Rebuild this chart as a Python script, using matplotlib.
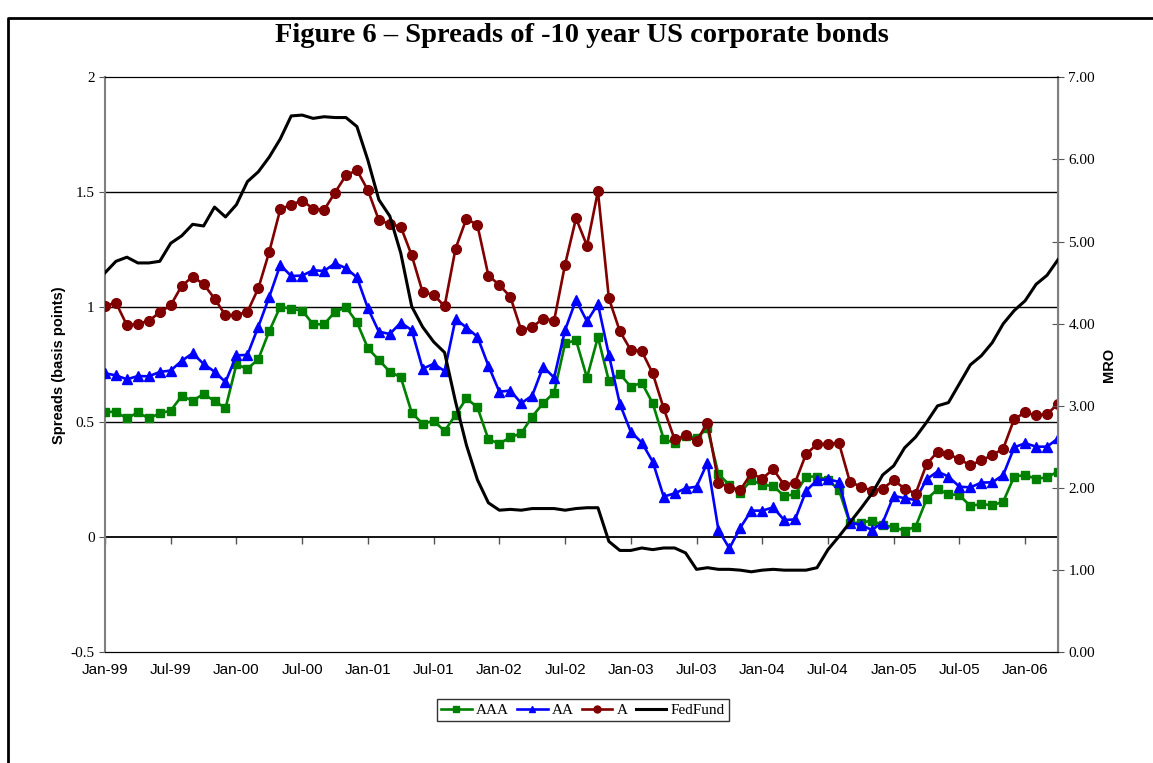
import matplotlib
matplotlib.use("Agg")
import matplotlib.pyplot as plt
from matplotlib.lines import Line2D
import numpy as np

# Monthly observations Jan-99 .. Apr-06
month_names = ["Jan", "Feb", "Mar", "Apr", "May", "Jun", "Jul", "Aug", "Sep", "Oct", "Nov", "Dec"]
years = ["99", "00", "01", "02", "03", "04", "05", "06"]
months = [f"{m}-{y}" for y in years for m in month_names][:88]

aaa = [0.546, 0.545, 0.517, 0.543, 0.517, 0.539, 0.551, 0.614, 0.594, 0.623, 0.593, 0.561,
       0.752, 0.732, 0.775, 0.897, 1.003, 0.993, 0.986, 0.926, 0.926, 0.981, 1.000, 0.935,
       0.822, 0.771, 0.720, 0.696, 0.542, 0.493, 0.507, 0.462, 0.532, 0.604, 0.565, 0.426,
       0.407, 0.435, 0.452, 0.525, 0.583, 0.629, 0.843, 0.857, 0.694, 0.870, 0.680, 0.710,
       0.655, 0.672, 0.583, 0.428, 0.409, 0.442, 0.432, 0.474, 0.275, 0.228, 0.194, 0.249,
       0.228, 0.223, 0.180, 0.187, 0.264, 0.264, 0.249, 0.206, 0.061, 0.064, 0.072, 0.054,
       0.043, 0.029, 0.046, 0.165, 0.209, 0.188, 0.183, 0.136, 0.145, 0.139, 0.155, 0.264,
       0.271, 0.254, 0.261, 0.286]

aa = [0.713, 0.704, 0.687, 0.701, 0.700, 0.719, 0.725, 0.767, 0.800, 0.754, 0.720, 0.675,
      0.791, 0.793, 0.916, 1.046, 1.184, 1.136, 1.138, 1.161, 1.158, 1.191, 1.170, 1.130,
      0.996, 0.894, 0.884, 0.933, 0.901, 0.733, 0.754, 0.723, 0.949, 0.912, 0.872, 0.746,
      0.633, 0.638, 0.583, 0.616, 0.742, 0.694, 0.901, 1.032, 0.939, 1.014, 0.793, 0.580,
      0.459, 0.412, 0.329, 0.177, 0.191, 0.213, 0.220, 0.325, 0.032, -0.048, 0.042, 0.116,
      0.116, 0.130, 0.075, 0.078, 0.201, 0.249, 0.252, 0.241, 0.064, 0.054, 0.032, 0.064,
      0.180, 0.170, 0.162, 0.252, 0.286, 0.264, 0.220, 0.217, 0.238, 0.239, 0.271, 0.391,
      0.409, 0.394, 0.394, 0.430]

a = [1.006, 1.020, 0.922, 0.928, 0.941, 0.978, 1.009, 1.093, 1.133, 1.101, 1.038, 0.965,
     0.967, 0.980, 1.083, 1.242, 1.426, 1.446, 1.464, 1.429, 1.423, 1.499, 1.574, 1.596,
     1.509, 1.379, 1.362, 1.350, 1.226, 1.065, 1.055, 1.004, 1.255, 1.386, 1.357, 1.138,
     1.097, 1.046, 0.900, 0.914, 0.951, 0.942, 1.186, 1.387, 1.268, 1.504, 1.039, 0.896,
     0.814, 0.809, 0.713, 0.561, 0.426, 0.443, 0.417, 0.499, 0.238, 0.216, 0.206, 0.278,
     0.255, 0.296, 0.228, 0.238, 0.362, 0.404, 0.407, 0.410, 0.242, 0.220, 0.203, 0.212,
     0.248, 0.212, 0.190, 0.317, 0.372, 0.362, 0.339, 0.313, 0.335, 0.357, 0.386, 0.514,
     0.543, 0.530, 0.536, 0.580]

fedfund = [4.62, 4.76, 4.81, 4.74, 4.74, 4.76, 4.98, 5.07, 5.21, 5.19, 5.42, 5.30,
           5.45, 5.73, 5.85, 6.03, 6.25, 6.53, 6.54, 6.50, 6.52, 6.51, 6.51, 6.40,
           5.99, 5.51, 5.31, 4.86, 4.21, 3.96, 3.78, 3.65, 3.05, 2.52, 2.10, 1.82,
           1.73, 1.74, 1.73, 1.75, 1.75, 1.75, 1.73, 1.75, 1.76, 1.76, 1.35, 1.24,
           1.24, 1.27, 1.25, 1.27, 1.27, 1.21, 1.01, 1.03, 1.01, 1.01, 1.00, 0.98,
           1.00, 1.01, 1.00, 1.00, 1.00, 1.03, 1.25, 1.41, 1.58, 1.75, 1.93, 2.16,
           2.27, 2.49, 2.62, 2.80, 3.00, 3.04, 3.27, 3.50, 3.61, 3.77, 4.00, 4.16,
           4.28, 4.48, 4.59, 4.78]

left_ticks = [-0.5, 0, 0.5, 1, 1.5, 2]
left_ticklabels = ["-0.5", "0", "0.5", "1", "1.5", "2"]
right_ticks = [0, 1, 2, 3, 4, 5, 6, 7]
right_ticklabels = ["0.00", "1.00", "2.00", "3.00", "4.00", "5.00", "6.00", "7.00"]

x = np.arange(len(months))
serif = ["Liberation Serif", "DejaVu Serif"]
sans = ["Liberation Sans", "DejaVu Sans"]

fig = plt.figure(figsize=(11.53, 7.63), dpi=100)
ax = fig.add_axes([105 / 1153, 1 - 652.3 / 763, (1058 - 105) / 1153, (652.3 - 77.3) / 763])
ax2 = ax.twinx()

lw = 1.9
ax.plot(x, aaa, color="#008000", lw=lw, marker="s", ms=6, label="AAA", zorder=3)
ax.plot(x, aa, color="#0000FF", lw=lw, marker="^", ms=7, label="AA", zorder=3)
ax.plot(x, a, color="#800000", lw=lw, marker="o", ms=7, label="A", zorder=3)
ax2.plot(x, fedfund, color="black", lw=2.2, label="FedFund", zorder=3)

ax.set_xlim(0, len(months) - 1)
ax.set_ylim(-0.5, 2)
ax2.set_ylim(0, 7)

for g in [0.5, 1, 1.5]:
    ax.axhline(g, color="black", lw=1.0, zorder=1)

# x tick labels at bottom, no ticks there
tick_pos = x[::6]
ax.set_xticks(tick_pos)
ax.set_xticklabels([months[i] for i in tick_pos], family=sans, fontsize=11)
ax.tick_params(axis="x", length=0, pad=8)

# axis line at 0 with ticks
sec = ax.secondary_xaxis(0.2)
sec.set_xticks(tick_pos)
sec.set_xticklabels([])
sec.tick_params(axis="x", direction="out", length=5, width=1, color="#555555")
sec.spines["bottom"].set_color("black")
sec.spines["bottom"].set_linewidth(1.3)

ax.set_yticks(left_ticks)
ax.set_yticklabels(left_ticklabels, family=serif, fontsize=11)
ax.tick_params(axis="y", direction="out", length=4, color="#555555")
ax2.set_yticks(right_ticks)
ax2.set_yticklabels(right_ticklabels, family=serif, fontsize=11)
ax2.tick_params(axis="y", direction="inout", length=8, color="#555555")

for spn in ["top", "bottom"]:
    ax.spines[spn].set_color("black")
    ax2.spines[spn].set_color("black")
ax.spines["left"].set_color("#808080")
ax.spines["left"].set_linewidth(1.5)
ax2.spines["right"].set_color("#808080")
ax2.spines["right"].set_linewidth(1.5)
ax2.spines["left"].set_visible(False)

ax.set_ylabel("Spreads (basis points)", family=sans, fontweight="bold", fontsize=10.5, labelpad=3)
ax2.set_ylabel("MRO", family=sans, fontweight="bold", fontsize=10.5, labelpad=5)

fig.text(582 / 1153, 1 - 35 / 763, "Figure 6 – Spreads of -10 year US corporate bonds",
         ha="center", va="center", family=serif, fontweight="bold", fontsize=20.5)

h1, l1 = ax.get_legend_handles_labels()
h2, l2 = ax2.get_legend_handles_labels()
leg = fig.legend(h1 + h2, l1 + l2, loc="center", bbox_to_anchor=(583 / 1153, 1 - 710 / 763),
                 ncol=4, frameon=True, fancybox=False, edgecolor="black", handlelength=2.0,
                 columnspacing=0.5, handletextpad=0.3, borderpad=0.3,
                 prop={"family": serif, "size": 11})
leg.get_frame().set_linewidth(1.0)
for lh in leg.legend_handles:
    lh.set_markersize(5)

# outer frame (left and top edges)
fig.add_artist(Line2D([8 / 1153, 8 / 1153, 1.0], [0.0, 1 - 18 / 763, 1 - 18 / 763],
                      transform=fig.transFigure, color="black", lw=2))

fig.savefig("out.png", dpi=100)
